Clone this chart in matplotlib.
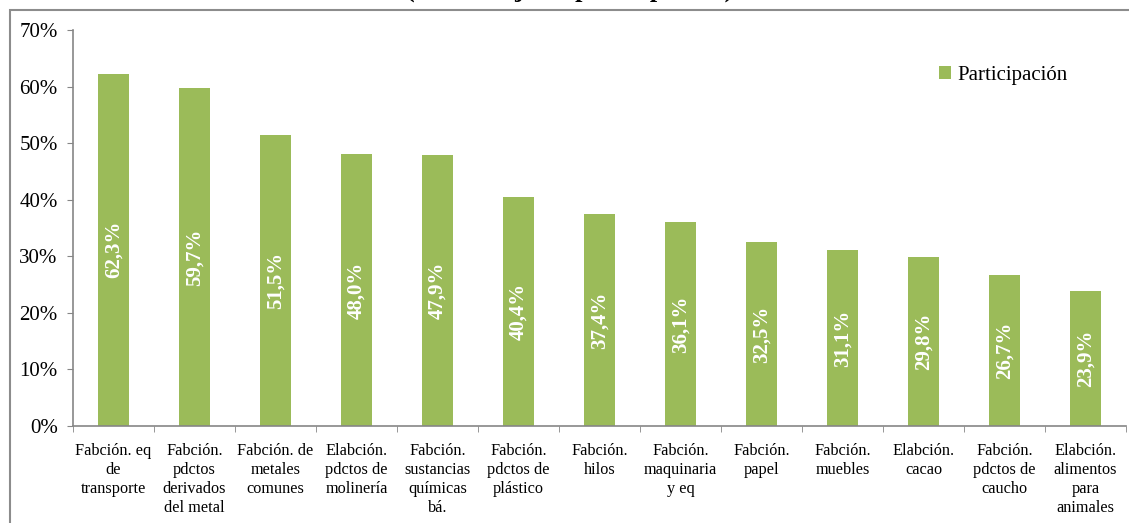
import matplotlib.pyplot as plt
from matplotlib.patches import Rectangle

plt.rcParams['font.family'] = ['Liberation Serif', 'DejaVu Serif']

categories = [
    'Fabción. eq\nde\ntransporte',
    'Fabción.\npdctos\nderivados\ndel metal',
    'Fabción. de\nmetales\ncomunes',
    'Elabción.\npdctos de\nmolinería',
    'Fabción.\nsustancias\nquímicas\nbá.',
    'Fabción.\npdctos de\nplástico',
    'Fabción.\nhilos',
    'Fabción.\nmaquinaria\ny eq',
    'Fabción.\npapel',
    'Fabción.\nmuebles',
    'Elabción.\ncacao',
    'Fabción.\npdctos de\ncaucho',
    'Elabción.\nalimentos\npara\nanimales',
]
participacion = [62.3, 59.7, 51.5, 48.0, 47.9, 40.4, 37.4, 36.1, 32.5, 31.1, 29.8, 26.7, 23.9]
yticks = [0, 10, 20, 30, 40, 50, 60, 70]

green = '#9BBB59'
grey = '#868686'

fig = plt.figure(figsize=(11.29, 5.23), dpi=100)

# outer chart frame (cut off at right/bottom as in the source)
fig.patches.append(Rectangle((10 / 1129, -0.1), 1.2, 1 - 10 / 523 + 0.1,
                             transform=fig.transFigure, fill=False,
                             edgecolor='#8c8c8c', linewidth=1.5))

# clipped title above the frame, only the lower part shows
fig.text(406 / 1129, 1 + 3 / 523, '(Porcentaje de participación)', fontsize=19,
         fontweight='bold', ha='left', va='baseline')

ax = fig.add_axes([73 / 1129, 97 / 523, 1053 / 1129, 396 / 523])
x = list(range(len(categories)))
ax.bar(x, participacion, width=0.38, color=green, label='Participación', zorder=2)

for xi, v in zip(x, participacion):
    ax.text(xi, v / 2, ('%.1f%%' % v).replace('.', ','), rotation=90,
            ha='center', va='center', color='white', fontsize=15, fontweight='bold')

ax.set_xlim(-0.5, len(categories) - 0.5)
ax.set_ylim(0, 70)
ax.set_yticks(yticks)
ax.set_yticklabels(['%d%%' % t for t in yticks], fontsize=15)
ax.set_xticks(x)
ax.set_xticklabels(categories, fontsize=11.7, linespacing=1.25)
ax.set_xticks([i - 0.5 for i in range(len(categories) + 1)], minor=True)
ax.tick_params(axis='x', which='major', length=0, pad=12)
ax.tick_params(axis='x', which='minor', length=4, color=grey, direction='out')
ax.tick_params(axis='y', length=4, color=grey, pad=7)

for s in ['top', 'right']:
    ax.spines[s].set_visible(False)
for s in ['left', 'bottom']:
    ax.spines[s].set_color(grey)
    ax.spines[s].set_linewidth(1.2)

ax.legend(loc='center left', bbox_to_anchor=(920 / 1129, 1 - 75 / 523),
          bbox_transform=fig.transFigure, frameon=False, fontsize=15,
          handlelength=0.6, handleheight=0.6, handletextpad=0.3)

fig.savefig('out.png', dpi=100)
